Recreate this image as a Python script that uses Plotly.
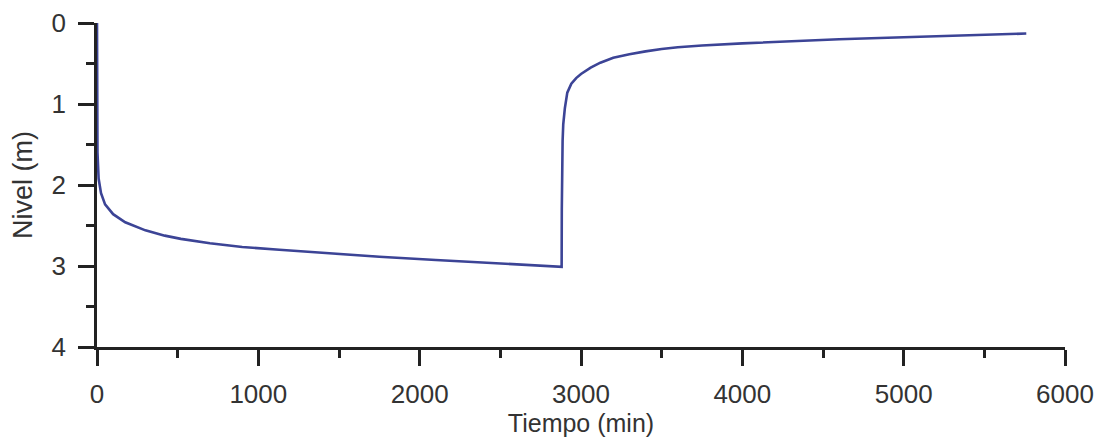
import plotly.graph_objects as go

# pumping phase (drawdown), time in min, level in m
t_pump = [0, 0.2, 1, 3, 10, 25, 50, 100, 175, 300, 420, 520, 700, 900,
          1130, 1400, 1750, 2100, 2370, 2600, 2880]
s_pump = [0, 0.5, 1.2, 1.6, 1.92, 2.1, 2.24, 2.36, 2.46, 2.56, 2.625, 2.665,
          2.72, 2.765, 2.80, 2.84, 2.885, 2.925, 2.955, 2.98, 3.01]

# recovery phase
t_rec = [2881, 2883, 2886, 2890, 2900, 2915, 2940, 2970, 3000, 3060, 3120,
         3200, 3300, 3400, 3500, 3600, 3750, 4000, 4300, 4600, 5000, 5300, 5760]
s_rec = [2.3, 1.75, 1.45, 1.25, 1.05, 0.86, 0.75, 0.68, 0.63, 0.55, 0.49,
         0.43, 0.385, 0.35, 0.32, 0.3, 0.278, 0.252, 0.225, 0.2, 0.175, 0.155, 0.13]

x_ticks = [0, 1000, 2000, 3000, 4000, 5000, 6000]
y_ticks = [0, 1, 2, 3, 4]

fig = go.Figure(go.Scatter(
    x=t_pump + t_rec, y=s_pump + s_rec, mode='lines',
    line=dict(color='#3c4496', width=2.6)))

font = dict(family='Liberation Sans, Arial', size=26, color='#333333')
axis = dict(showline=True, linecolor='#222222', linewidth=2.5,
            ticks='outside', ticklen=16, tickwidth=2.5, tickcolor='#222222',
            showgrid=False, zeroline=False, tickfont=font,
            minor=dict(ticks='outside', ticklen=8, tickwidth=2.5,
                       tickcolor='#222222', showgrid=False))

# the page body adds 8px around the figure
fig.update_layout(
    width=1094, height=431,
    margin=dict(l=89, r=37, t=15, b=92),
    paper_bgcolor='white', plot_bgcolor='white',
    showlegend=False,
    xaxis=dict(axis, range=[0, 6000], tickvals=x_ticks,
               minor=dict(axis['minor'], dtick=500, tick0=0),
               title=dict(text='Tiempo (min)', font=dict(font, size=25), standoff=3),
               ticklabelstandoff=6, automargin=False),
    yaxis=dict(axis, range=[4, 0], tickvals=y_ticks,
               minor=dict(axis['minor'], dtick=0.5, tick0=0),
               title=dict(text='Nivel (m)', font=dict(font, size=27), standoff=16),
               ticklabelstandoff=7, automargin=False),
)

fig.write_html("out.html")
